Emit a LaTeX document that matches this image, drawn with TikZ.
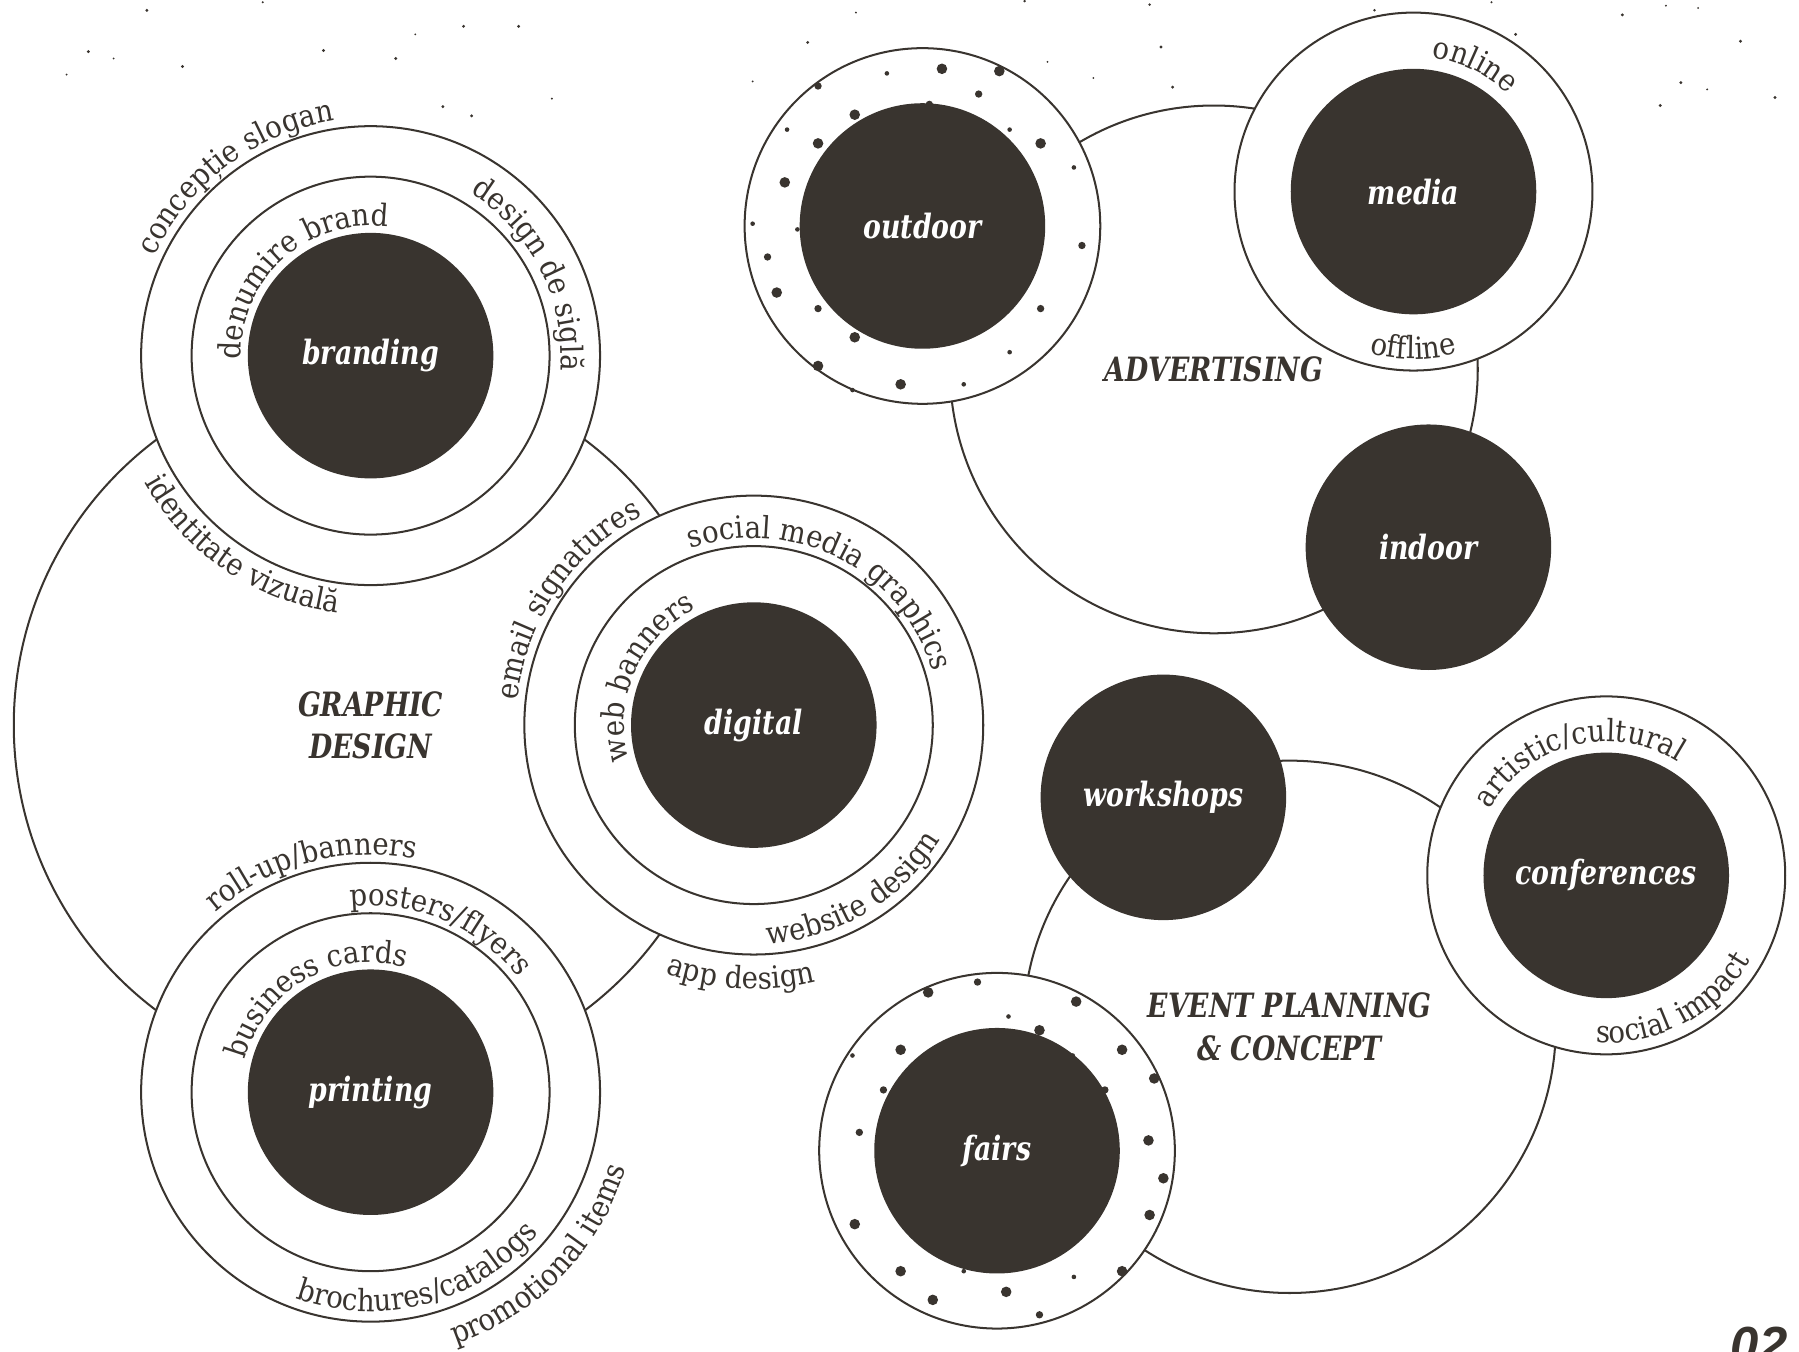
\documentclass[tikz,border=0pt]{standalone}
\usepackage{fontspec}
\setmainfont[FakeStretch=0.9]{DejaVu Serif}
\newfontfamily\labfamily[FakeStretch=0.8]{DejaVu Serif}
\newfontfamily\numfont{Liberation Sans}
\usetikzlibrary{decorations.text}
\definecolor{ink}{RGB}{57,52,47}
\newcommand{\arcfont}{\fontsize{7.6}{8}\selectfont}
\newcommand{\labfont}{\fontsize{8.3}{10.5}\selectfont\labfamily\bfseries\itshape}
\newcommand{\arctop}[4]{\path[decorate,decoration={text along path,text align=center,text color=ink,text={|\arcfont|#4}}] ([shift={(#3+60:#2mm)}]#1.center) arc[start angle=#3+60,end angle=#3-60,radius=#2mm];}
\newcommand{\arcbot}[4]{\path[decorate,decoration={text along path,text align=center,text color=ink,text={|\arcfont|#4}}] ([shift={(#3-60:#2mm)}]#1.center) arc[start angle=#3-60,end angle=#3+60,radius=#2mm];}
\tikzset{
	halo/.style={circle,draw=ink,line width=.5pt,inner sep=0pt,align=center,text=ink,font=\labfont},
	ring/.style={circle,draw=ink,fill=white,line width=.5pt,inner sep=0pt},
	core/.style={circle,fill=ink,inner sep=0pt,minimum size=21.4mm,text=white,font=\labfont}
}

\begin{document}
\begin{tikzpicture}[x=0.1mm,y=0.1mm]
	\useasboundingbox (0,0) rectangle (1568,1178);
	\node[halo,minimum size=62.2mm] (gd) at (323,546) {GRAPHIC\\DESIGN};
	\node[halo,minimum size=46mm] (adv) at (1058,856) {ADVERTISING};
	\node[halo,minimum size=46.4mm] (ev) at (1124,283) {EVENT PLANNING\\\& CONCEPT};
	\node[ring,minimum size=40mm] (brandout) at (323,868) {};
	\node[ring,minimum size=31.2mm] (brandin) at (brandout) {};
	\node[core] (branding) at (brandout) {branding};
	\node[ring,minimum size=40mm] (printout) at (323,226) {};
	\node[ring,minimum size=31.2mm] (printin) at (printout) {};
	\node[core] (printing) at (printout) {printing};
	\node[ring,minimum size=40mm] (digout) at (657,546) {};
	\node[ring,minimum size=31.2mm] (digin) at (digout) {};
	\node[core] (digital) at (digout) {digital};
	\node[ring,minimum size=31mm] (outring) at (804,981) {};
	\node[ring,minimum size=31.2mm] (mediaring) at (1232,1011) {};
	\node[core] (media) at (mediaring) {media};
	\node[core] (indoor) at (1245,701) {indoor};
	\node[core] (workshops) at (1014,483) {workshops};
	\node[ring,minimum size=31.2mm] (confring) at (1400,415) {};
	\node[core] (conferences) at (confring) {conferences};
	\node[ring,minimum size=31mm] (fairring) at (869,175) {};
	\foreach \a/\b/\s in {17/137/.46,67/135/.46,-31/133/.2,-91/122/.32,49/115/.32,6/106/.32,-59/97/.46,-118/84/.2,76/84/.2,-91/72/.46,103/72/.46,132/51/.2,-120/38/.46,-148/2/.2,-109/-3/.2,139/-17/.32,-135/-27/.32,-127/-58/.46,-91/-72/.32,103/-72/.32,-59/-97/.46,76/-110/.2,-91/-122/.46,-19/-138/.46,36/-138/.2,-61/-143/.2}
		\fill[ink] ([shift={(\a,\b)}]outring.center) circle[radius=\s mm];
	\foreach \a/\b/\s in {-17/147/.32,-60/138/.46,69/130/.46,10/117/.2,37/105/.46,-84/88/.46,109/88/.46,-126/83/.2,66/83/.2,-99/53/.32,94/53/.32,137/63/.46,-120/16/.32,132/9/.46,145/-24/.46,133/-56/.46,-124/-64/.46,-84/-105/.46,-29/-105/.2,67/-110/.2,109/-105/.46,8/-123/.46,-56/-130/.46,37/-143/.32}
		\fill[ink] ([shift={(\a,\b)}]fairring.center) circle[radius=\s mm];
	\node[core] (outdoor) at (outring) {outdoor};
	\node[core] (fairs) at (fairring) {fairs};
	\foreach \x/\y/\s in {128/1169/.14,229/1176/.1,77/1133/.14,99/1127/.09,58/1113/.09,159/1120/.14,282/1134/.14,345/1127/.14,362/1148/.09,404/1155/.14,452/1155/.14,386/1085/.14,411/1077/.14,481/1092/.09,746/1167/.09,704/1141/.14,656/1107/.09,893/1177/.12,1002/1174/.12,1012/1137/.14,913/1124/.09,953/1110/.09,1022/1102/.14,1198/1169/.12,1300/1176/.1,1321/1148/.14,1414/1165/.14,1452/1173/.09,1480/1171/.09,1517/1142/.14,1465/1106/.14,1488/1100/.09,1547/1093/.14,1447/1086/.14}
		\fill[ink] (\x,\y) circle[radius=\s mm];
	\arctop{branding}{20.7}{127}{concepție slogan}
	\arctop{branding}{11.3}{132}{denumire brand}
	\arctop{branding}{16.6}{27}{design de siglă}
	\arcbot{branding}{22.6}{236}{identitate vizuală}
	\arctop{digital}{20.7}{146}{email signatures}
	\arctop{digital}{16.3}{63}{social media graphics}
	\arctop{digital}{11.3}{156}{web banners}
	\arcbot{digital}{19.1}{-59}{website design}
	\arcbot{digital}{23}{267}{app design}
	\arctop{printing}{20.7}{105}{roll-up/banners}
	\arctop{printing}{16.3}{67}{posters/flyers}
	\arctop{printing}{11.3}{120}{business cards}
	\arcbot{printing}{19.1}{285}{brochures/catalogs}
	\arcbot{printing}{23.2}{316}{promotional items}
	\arctop{media}{11.8}{64}{online}
	\arcbot{media}{14.6}{270}{offline}
	\arctop{conferences}{11.7}{104}{artistic/cultural}
	\arcbot{conferences}{14.6}{298}{social impact}
	\node[anchor=base west,inner sep=0pt,text=ink,font=\fontsize{12.6}{13}\selectfont\numfont\bfseries\itshape] (page) at (1508,-10) {02};
\end{tikzpicture}
\end{document}
